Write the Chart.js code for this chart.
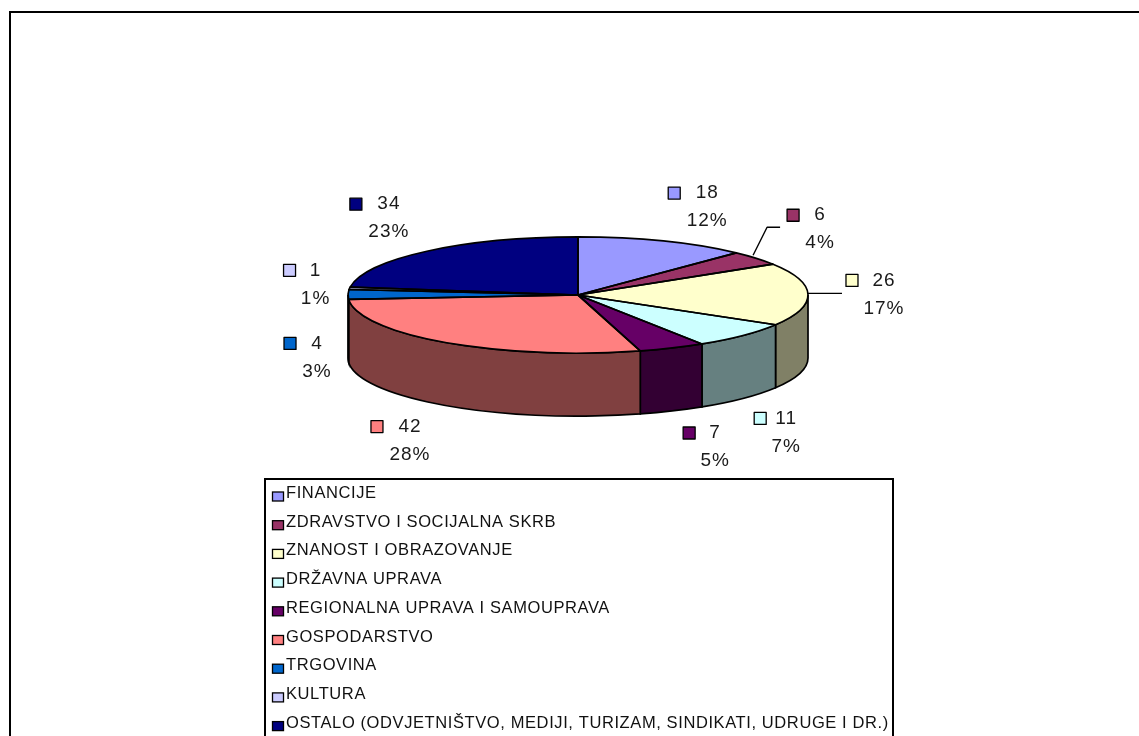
<!DOCTYPE html>
<html>
<head>
<meta charset="utf-8">
<title>Struktura</title>
<script src="https://cdn.jsdelivr.net/npm/chart.js@4"></script>
<style>
    html, body { margin: 0; padding: 0; background: #fff; overflow: hidden; }
    #chart { display: block; }
</style>
</head>
<body>
<canvas id="chart" width="1139" height="736"></canvas>
<script>
'use strict';

var categories = [
    'FINANCIJE',
    'ZDRAVSTVO I SOCIJALNA SKRB',
    'ZNANOST I OBRAZOVANJE',
    'DRŽAVNA UPRAVA',
    'REGIONALNA UPRAVA I SAMOUPRAVA',
    'GOSPODARSTVO',
    'TRGOVINA',
    'KULTURA',
    'OSTALO (ODVJETNIŠTVO, MEDIJI, TURIZAM, SINDIKATI, UDRUGE I DR.)'
];
var counts = [18, 6, 26, 11, 7, 42, 4, 1, 34];
var percents = ['12%', '4%', '17%', '7%', '5%', '28%', '3%', '1%', '23%'];
var colors = ['#9999FF', '#993366', '#FFFFCC', '#CCFFFF', '#660066', '#FF8080', '#0066CC', '#CCCCFF', '#000080'];
var sideColors = ['#4D4D80', '#4D1A33', '#808066', '#668080', '#330033', '#804040', '#003366', '#666680', '#000040'];

// [dx, dy, text dx] of each label's swatch from the middle of its slice's rim
var labelOffsets = [
    [11, -48, 33], [37, -43, 27], [44, -14, 32],
    [17, 83, 26], [17, 85, 26], [-69, 84, 33],
    [-58, 49, 27], [-60, -18, 26], [-71, -47, 33]
];

var TILT = 0.2525,
    DEPTH = 63,
    FONT = '"Liberation Sans", Arial, sans-serif';

var rimPoint = function (arc) {
    var mid = (arc.startAngle + arc.endAngle) / 2;

    return {
        x: arc.x + arc.outerRadius * Math.cos(mid),
        y: arc.y + arc.outerRadius * TILT * Math.sin(mid)
    };
};

var topPath = function (ctx, arc) {
    ctx.beginPath();
    ctx.moveTo(arc.x, arc.y);
    ctx.ellipse(arc.x, arc.y, arc.outerRadius, arc.outerRadius * TILT, 0, arc.startAngle, arc.endAngle);
    ctx.closePath();
};

// only the part of a slice's wall between 0 and PI faces the viewer
var drawWall = function (ctx, arc, index) {
    var from = Math.max(arc.startAngle, 0),
        to = Math.min(arc.endAngle, Math.PI),
        rx = arc.outerRadius,
        ry = rx * TILT;

    if (from >= to) { return; }

    ctx.beginPath();
    ctx.ellipse(arc.x, arc.y, rx, ry, 0, from, to);
    ctx.ellipse(arc.x, arc.y + DEPTH, rx, ry, 0, to, from, true);
    ctx.closePath();
    ctx.fillStyle = sideColors[index];
    ctx.fill();
    ctx.stroke();
};

var drawSwatch = function (ctx, x, y, width, height, color) {
    ctx.fillStyle = color;
    ctx.strokeStyle = '#000';
    ctx.lineWidth = 1.3;
    ctx.fillRect(x - width / 2, y - height / 2, width, height);
    ctx.strokeRect(x - width / 2, y - height / 2, width, height);
};

var drawLeader = function (ctx, arc, index) {
    var p = rimPoint(arc);

    if (index === 1) {
        ctx.beginPath();
        ctx.moveTo(p.x - 3, p.y - 3);
        ctx.lineTo(p.x + 11, p.y - 31);
        ctx.lineTo(p.x + 24, p.y - 31);
        ctx.stroke();
    } else if (index === 2) {
        ctx.beginPath();
        ctx.moveTo(p.x, p.y - 1);
        ctx.lineTo(p.x + 34, p.y - 1);
        ctx.stroke();
    }
};

var drawSliceLabel = function (ctx, arc, index) {
    var p = rimPoint(arc),
        offset = labelOffsets[index],
        x = p.x + offset[0],
        y = p.y + offset[1];

    drawSwatch(ctx, x, y, 12, 12, colors[index]);

    ctx.fillStyle = '#1a1a1a';
    ctx.font = '19px ' + FONT;
    ctx.letterSpacing = '1px';
    ctx.textAlign = 'center';
    ctx.textBaseline = 'middle';
    ctx.fillText(String(counts[index]), x + offset[2], y);
    ctx.fillText(percents[index], x + offset[2], y + 28);
};

var pie3d = {
    id: 'pie3d',

    // walls go below the squashed faces the library draws
    beforeDatasetsDraw: function (chart) {
        var ctx = chart.ctx,
            arcs = chart.getDatasetMeta(0).data,
            first = arcs[0];

        ctx.save();
        ctx.strokeStyle = '#000';
        ctx.lineWidth = 1.7;
        arcs.forEach(function (arc, index) { drawWall(ctx, arc, index); });
        ctx.restore();

        ctx.save();
        ctx.translate(first.x, first.y);
        ctx.scale(1, TILT);
        ctx.translate(-first.x, -first.y);
    },

    afterDatasetsDraw: function (chart) {
        var ctx = chart.ctx,
            arcs = chart.getDatasetMeta(0).data;

        ctx.restore();

        ctx.save();
        ctx.strokeStyle = '#000';
        ctx.lineWidth = 1.7;
        ctx.lineJoin = 'round';
        arcs.forEach(function (arc) {
            topPath(ctx, arc);
            ctx.stroke();
        });

        ctx.lineWidth = 1.4;
        arcs.forEach(function (arc, index) { drawLeader(ctx, arc, index); });
        arcs.forEach(function (arc, index) { drawSliceLabel(ctx, arc, index); });
        ctx.restore();
    }
};

var boxLegend = {
    id: 'boxLegend',

    afterDraw: function (chart) {
        var ctx = chart.ctx;

        ctx.save();
        ctx.strokeStyle = '#000';
        ctx.lineWidth = 2;
        ctx.beginPath();
        ctx.moveTo(265, 736);
        ctx.lineTo(265, 479);
        ctx.lineTo(893, 479);
        ctx.lineTo(893, 736);
        ctx.stroke();

        ctx.textAlign = 'left';
        ctx.textBaseline = 'middle';
        chart.data.labels.forEach(function (label, index) {
            var y = 493.5 + index * 28.7;

            drawSwatch(ctx, 278, y + 3, 11, 9, colors[index]);
            ctx.fillStyle = '#111';
            ctx.font = '16.5px ' + FONT;
            ctx.letterSpacing = '0.6px';
            ctx.fillText(label, 286, y);
        });
        ctx.restore();
    }
};

var frame = {
    id: 'frame',

    beforeDraw: function (chart) {
        var ctx = chart.ctx;

        ctx.save();
        ctx.strokeStyle = '#000';
        ctx.lineWidth = 2;
        ctx.beginPath();
        ctx.moveTo(10, 736);
        ctx.lineTo(10, 12);
        ctx.lineTo(1139, 12);
        ctx.stroke();
        ctx.restore();
    }
};

new Chart(document.getElementById('chart'), {
    type: 'pie',
    data: {
        labels: categories,
        datasets: [{
            data: counts,
            backgroundColor: colors,
            borderWidth: 0
        }]
    },
    options: {
        responsive: false,
        animation: false,
        layout: { padding: { left: 348, right: 331, top: 65, bottom: 211 } },
        plugins: {
            legend: { display: false },
            tooltip: { enabled: false }
        }
    },
    plugins: [frame, pie3d, boxLegend]
});
</script>
</body>
</html>
